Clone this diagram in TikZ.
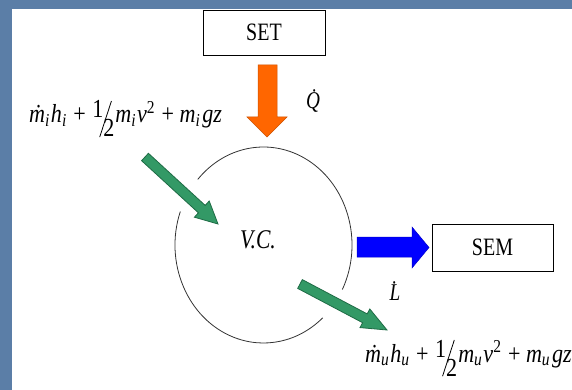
\documentclass[tikz,border=0pt]{standalone}
\usepackage{fontspec}
\setmainfont{Liberation Serif}[FakeStretch=0.8]
\newfontfamily\formfont{Liberation Serif}[FakeStretch=0.85]
\usepackage{graphicx}
\definecolor{bgblue}{HTML}{5B7EA7}
\definecolor{arrgreen}{HTML}{339966}
\definecolor{arrgreenD}{HTML}{1E6B45}
\definecolor{arrorange}{HTML}{FF6600}
\newcommand{\halffrac}{\rlap{\raisebox{5pt}{1}}\kern7pt\rlap{\raisebox{-14pt}{\rotatebox{-18}{\rule{0.8pt}{38pt}}}}\kern4pt\raisebox{-14pt}{2}}
\newcommand{\flowexpr}[1]{\textit{\.{m}}\textsubscript{\textit{#1}}\kern1pt\textit{h}\textsubscript{\textit{#1}}\kern1pt{} + \kern1pt\halffrac\kern1pt\textit{m}\textsubscript{\textit{#1}}\kern1pt\textit{v}\textsuperscript{2}\kern1pt{} + \textit{m}\textsubscript{\textit{#1}}\kern2pt\textit{gz}}
\begin{document}
\begin{tikzpicture}[x=1pt,y=-1pt,
  box/.style={draw=black, line width=0.8pt, fill=white, inner sep=0pt, font=\fontsize{25}{30}\selectfont},
  lbl/.style={inner sep=0pt, font=\fontsize{25}{30}\selectfont},
  circ/.style={draw=black!80, line width=0.8pt},
  garrow/.style={fill=arrgreen, draw=arrgreenD, line width=0.8pt, line join=miter}]
\fill[bgblue] (0,0) rectangle (572,390);
\fill[white] (12,9) rectangle (572,390);
\useasboundingbox (0,0) rectangle (572,390);

% boxes
\node[box, minimum width=122pt, minimum height=45pt] (set) at (264,32.5) {SET};
\node[box, minimum width=121pt, minimum height=47pt] (sem) at (492.5,247.5) {SEM};

% control volume
\coordinate (c) at (263.5,245);
\draw[circ] (c) ++(160:88.5pt and 98pt) arc[start angle=160, end angle=312, x radius=88.5pt, y radius=98pt];
\draw[circ] (c) ++(-27:88.5pt and 98pt) arc[start angle=-27, end angle=138, x radius=88.5pt, y radius=98pt];
\node[lbl, font=\fontsize{27}{32}\selectfont\itshape] (vc) at (258,240) {V.C.};

% heat arrow (orange)
\fill[arrorange, draw=arrorange!80!black, line width=0.5pt] (258,65) -- (277,65) -- (277,117) -- (287,117) -- (267,137) -- (247,117) -- (258,117) -- cycle;
\node[lbl, font=\fontsize{24}{28}\selectfont\itshape] (q) at (313,101) {\.{Q}};

% work arrow (blue)
\fill[blue, draw=blue!80!black, line width=0.5pt] (357,237) -- (412,237) -- (412,227) -- (429,247.5) -- (412,268) -- (412,257) -- (357,257) -- cycle;
\node[lbl, font=\fontsize{24}{28}\selectfont\itshape] (l) at (395,291) {\.{L}};

% mass flow arrows (green)
\draw[garrow] (148.4,153.3) -- (205.2,205.4) -- (209.2,201.0) -- (218,224) -- (194.4,217.2) -- (198.4,212.8) -- (141.6,160.7) -- cycle;
\draw[garrow] (302.3,279.6) -- (367.2,313.9) -- (369.8,309.0) -- (387,330) -- (360.0,327.6) -- (362.6,322.7) -- (297.7,288.4) -- cycle;

% flow expressions
\node[lbl, font=\fontsize{26}{30}\formfont, anchor=base west] (fin) at (29,123) {\flowexpr{i}};
\node[lbl, font=\fontsize{26}{30}\formfont, anchor=base west] (fout) at (365,362) {\flowexpr{u}};
\end{tikzpicture}
\end{document}
